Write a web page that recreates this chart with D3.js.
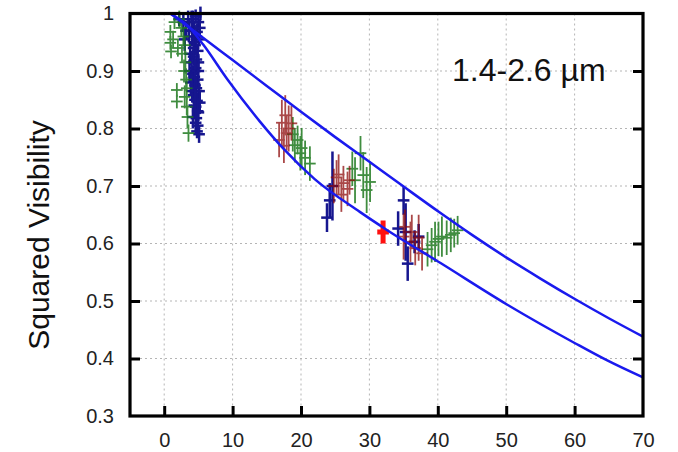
<!DOCTYPE html>
<html>
<head>
<meta charset="utf-8">
<script src="https://cdn.jsdelivr.net/npm/d3@7"></script>
<style>
  body { margin: 0; background: #fff; }
  svg { display: block; font-family: "Liberation Sans", Arial, sans-serif; }
</style>
</head>
<body>
<svg id="chart" width="678" height="452"></svg>
<script>
// baseline (u) vs squared visibility, [u, V2, V2 error]
const blueData = [
  [4.6, 0.995, 0.012], [4.2, 0.99, 0.015], [5.0, 0.985, 0.015], [4.4, 0.975, 0.012],
  [4.8, 0.968, 0.015], [4.1, 0.96, 0.015], [5.1, 0.955, 0.012], [4.5, 0.945, 0.015],
  [4.9, 0.935, 0.012], [4.3, 0.925, 0.015], [5.0, 0.915, 0.015], [4.6, 0.905, 0.012],
  [4.2, 0.895, 0.015], [4.9, 0.885, 0.015], [4.5, 0.875, 0.012], [5.1, 0.865, 0.015],
  [4.3, 0.858, 0.015], [4.8, 0.848, 0.015], [4.6, 0.838, 0.012], [5.0, 0.828, 0.015],
  [4.7, 0.818, 0.015], [4.9, 0.805, 0.015], [4.8, 0.795, 0.012], [3.8, 0.93, 0.02],
  [3.6, 0.97, 0.02], [3.9, 0.88, 0.02], [3.7, 0.90, 0.02], [5.2, 0.975, 0.015],
  [2.2, 0.99, 0.012], [2.8, 0.985, 0.015], [3.2, 0.97, 0.015], [3.0, 0.955, 0.02],
  [4.0, 0.985, 0.02], [4.4, 0.95, 0.02], [4.0, 0.915, 0.02], [4.4, 0.89, 0.02],
  [4.1, 0.865, 0.02], [4.4, 0.84, 0.02], [4.2, 0.82, 0.02], [5.0, 0.9, 0.02],
  [5.2, 0.845, 0.02], [5.1, 0.79, 0.015], [3.5, 0.99, 0.015], [5.3, 1.0, 0.012],
  [4.7, 0.96, 0.02], [4.3, 0.94, 0.02], [4.7, 0.92, 0.02], [4.5, 0.9, 0.02],
  [4.7, 0.87, 0.02], [4.5, 0.85, 0.02], [4.9, 0.83, 0.02], [4.6, 0.81, 0.02],
  [24.6, 0.70, 0.06], [23.8, 0.645, 0.025], [24.2, 0.675, 0.03],
  [35.0, 0.675, 0.025], [35.3, 0.62, 0.05], [35.6, 0.565, 0.03], [34.2, 0.626, 0.03],
  [36.6, 0.603, 0.02], [37.2, 0.612, 0.022]
]
const greenData = [
  [0.9, 0.968, 0.012], [0.9, 0.949, 0.012], [1.0, 0.934, 0.012], [1.85, 0.867, 0.012],
  [1.85, 0.847, 0.012], [3.55, 0.792, 0.015], [3.3, 0.838, 0.015], [2.2, 0.99, 0.015],
  [2.5, 0.975, 0.015], [2.8, 0.96, 0.015], [3.0, 0.945, 0.015], [2.6, 0.93, 0.015],
  [3.1, 0.915, 0.02], [2.9, 0.9, 0.02], [3.2, 0.885, 0.02], [3.3, 0.87, 0.02],
  [3.0, 0.855, 0.02], [3.4, 0.82, 0.02], [1.5, 0.985, 0.012], [1.3, 0.955, 0.015],
  [2.0, 0.94, 0.015],
  [19.1, 0.771, 0.03], [20.1, 0.766, 0.035], [19.9, 0.757, 0.03], [20.6, 0.749, 0.03],
  [21.3, 0.739, 0.03], [19.5, 0.78, 0.025], [18.8, 0.79, 0.03],
  [27.9, 0.71, 0.04], [29.1, 0.719, 0.04], [30.1, 0.707, 0.035], [28.7, 0.757, 0.03],
  [29.6, 0.693, 0.04], [27.5, 0.73, 0.03],
  [38.5, 0.59, 0.03], [39.1, 0.597, 0.03], [39.6, 0.603, 0.035], [40.1, 0.608, 0.03],
  [40.6, 0.612, 0.035], [41.3, 0.61, 0.03], [41.9, 0.615, 0.03], [42.4, 0.618, 0.025],
  [42.9, 0.623, 0.025]
]
const darkRedData = [
  [17.2, 0.81, 0.04], [17.7, 0.823, 0.035], [17.9, 0.792, 0.03], [18.6, 0.809, 0.03],
  [16.8, 0.78, 0.03], [18.2, 0.80, 0.04], [17.5, 0.77, 0.03],
  [24.8, 0.70, 0.03], [25.5, 0.72, 0.035], [26.2, 0.705, 0.03], [26.8, 0.695, 0.03],
  [25.9, 0.685, 0.03], [27.1, 0.71, 0.025], [25.2, 0.715, 0.03],
  [35.0, 0.612, 0.04], [35.2, 0.629, 0.03], [36.0, 0.603, 0.035], [36.7, 0.592, 0.03],
  [37.7, 0.583, 0.03], [36.2, 0.62, 0.03], [37.2, 0.61, 0.04]
]
const redData = [[32.0, 0.62, 0.02]]
const uErr = 0.85

// model curves
const upperCurve = [
  [0.9, 1.0], [5, 0.964], [10, 0.919], [15, 0.874], [20, 0.829], [25, 0.785],
  [30, 0.742], [35, 0.699], [40.4, 0.653], [45, 0.615], [50.1, 0.575], [55, 0.539],
  [60.1, 0.503], [65, 0.47], [70, 0.438]
]
const lowerCurve = [
  [0.9, 1.0], [3.5, 0.978], [5.7, 0.946], [9.2, 0.886], [14, 0.812], [17.5, 0.764],
  [22, 0.712], [28.6, 0.655], [32.5, 0.624], [40.4, 0.566], [50.1, 0.494],
  [60, 0.427], [64.7, 0.397], [70, 0.367]
]

const xTicks = [0, 10, 20, 30, 40, 50, 60, 70]
const yTicks = [0.3, 0.4, 0.5, 0.6, 0.7, 0.8, 0.9, 1]
const yLabel = 'Squared Visibility'
const bandLabel = '1.4-2.6 µm'

const svg = d3.select('#chart')
const mLeft = 130, mRight = 643, mTop = 13.5, mBottom = 416

const x = d3.scaleLinear().domain([-5, 70]).range([mLeft, mRight])
const y = d3.scaleLinear().domain([0.3, 1]).range([mBottom, mTop])

// grid
const grid = svg.append('g')
  .attr('stroke', '#b5b5b5').attr('stroke-width', 1).attr('stroke-dasharray', '2,3')
grid.selectAll('.gx').data(xTicks.filter(d => d < 70)).join('line')
  .attr('x1', d => x(d)).attr('x2', d => x(d)).attr('y1', mTop).attr('y2', mBottom)
grid.selectAll('.gy').data(yTicks.filter(d => d > 0.3 && d < 1)).join('line')
  .attr('y1', d => y(d)).attr('y2', d => y(d)).attr('x1', mLeft).attr('x2', mRight)

// error-bar crosses
function drawCrosses(data, color, width, opacity) {
  const g = svg.append('g').attr('stroke', color).attr('stroke-width', width)
    .attr('opacity', opacity)
  data.forEach(([u, v, e]) => {
    g.append('line').attr('x1', x(u)).attr('x2', x(u)).attr('y1', y(v - e)).attr('y2', y(v + e))
    g.append('line').attr('x1', x(u - uErr)).attr('x2', x(u + uErr)).attr('y1', y(v)).attr('y2', y(v))
  })
}
drawCrosses(blueData, '#0a0a8a', 2.5, 0.95)
drawCrosses(greenData, '#1f7a1f', 1.8, 0.85)
drawCrosses(darkRedData, '#8e0c0c', 1.8, 0.75)
drawCrosses(redData, '#ff1010', 5, 1)

// curves
const line = d3.line().x(d => x(d[0])).y(d => y(d[1])).curve(d3.curveMonotoneX)
;[upperCurve, lowerCurve].forEach(c => {
  svg.append('path').attr('d', line(c)).attr('fill', 'none')
    .attr('stroke', '#1a1aee').attr('stroke-width', 2.5)
})

// frame
svg.append('rect').attr('x', mLeft).attr('y', mTop)
  .attr('width', mRight - mLeft).attr('height', mBottom - mTop)
  .attr('fill', 'none').attr('stroke', '#000').attr('stroke-width', 3.2)

// axes with inward ticks
const xAxis = d3.axisBottom(x).tickValues(xTicks).tickSizeInner(-10).tickSizeOuter(0).tickPadding(17)
const yAxis = d3.axisLeft(y).tickValues(yTicks).tickSizeInner(-10).tickSizeOuter(0).tickPadding(16)
  .tickFormat(d => d === 1 ? '1' : d3.format('.1f')(d))
const yAxisR = d3.axisRight(y).tickValues(yTicks).tickSizeInner(-10).tickSizeOuter(0).tickFormat('')

function styleAxis(g) {
  g.select('.domain').remove()
  g.selectAll('.tick line').attr('stroke', '#000').attr('stroke-width', 3)
  g.selectAll('.tick text').attr('fill', '#222').attr('font-size', 20)
    .attr('font-family', '"Liberation Sans", Arial, sans-serif')
}
svg.append('g').attr('transform', `translate(0,${mBottom})`).call(xAxis).call(styleAxis)
  .selectAll('.tick').filter(d => d === 70).select('line').remove()
svg.append('g').attr('transform', `translate(${mLeft},0)`).call(yAxis).call(styleAxis)
  .selectAll('.tick').filter(d => d === 0.3 || d === 1).select('line').remove()
svg.append('g').attr('transform', `translate(${mRight},0)`).call(yAxisR).call(styleAxis)
  .selectAll('.tick').filter(d => d === 0.3 || d === 1).select('line').remove()

// labels
svg.append('text')
  .attr('transform', `translate(49,235) rotate(-90)`)
  .attr('text-anchor', 'middle').attr('font-size', 30).attr('fill', '#111')
  .text(yLabel)
svg.append('text').attr('x', 452).attr('y', 81)
  .attr('font-size', 32).attr('fill', '#111')
  .text(bandLabel)
</script>
</body>
</html>
